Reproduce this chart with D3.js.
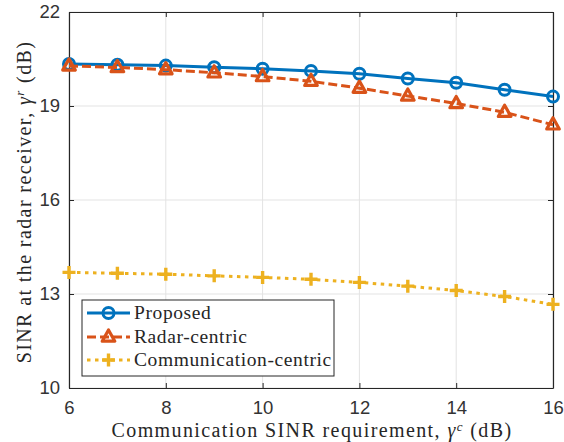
<!DOCTYPE html>
<html>
<head>
<meta charset="utf-8">
<script src="https://cdn.jsdelivr.net/npm/d3@7"></script>
<style>
  html, body { margin: 0; padding: 0; background: #fff; }
  svg { display: block; }
</style>
</head>
<body>
<svg id="chart" width="564" height="442"></svg>
<script>
// Communication SINR requirement (dB)
const gammaC = [6, 7, 8, 9, 10, 11, 12, 13, 14, 15, 16];
// Radar SINR achieved (dB)
const proposed = [20.34, 20.32, 20.29, 20.24, 20.19, 20.12, 20.03, 19.88, 19.74, 19.52, 19.30];
const radarCentric = [20.28, 20.23, 20.16, 20.06, 19.94, 19.79, 19.57, 19.32, 19.08, 18.80, 18.40];
const commCentric = [13.69, 13.66, 13.63, 13.58, 13.53, 13.47, 13.37, 13.25, 13.11, 12.92, 12.67];
const xTicks = [6, 8, 10, 12, 14, 16];
const yTicks = [10, 13, 16, 19, 22];
const seriesNames = ["Proposed", "Radar-centric", "Communication-centric"];

const colors = ["#0072BD", "#D95319", "#EDB120"];
const dashes = [null, "9,4", "3.5,4.5"];
const markers = ["circle", "triangle", "plus"];
const seriesData = [proposed, radarCentric, commCentric];

const svg = d3.select("#chart");
const L = 69, R = 553, T = 12, B = 388;

const x = d3.scaleLinear().domain([6, 16]).range([L, R]);
const y = d3.scaleLinear().domain([10, 22]).range([B, T]);

const tickFont = "'Liberation Sans', Arial, sans-serif";
const serif = "'Liberation Serif', 'Times New Roman', serif";
const textColor = "#262626";

// grid
const grid = svg.append("g");
grid.selectAll("line.gx").data(xTicks).join("line")
  .attr("x1", d => x(d)).attr("x2", d => x(d))
  .attr("y1", T).attr("y2", B)
  .attr("stroke", "#e3e3e3").attr("stroke-width", 1);
grid.selectAll("line.gy").data(yTicks).join("line")
  .attr("y1", d => y(d)).attr("y2", d => y(d))
  .attr("x1", L).attr("x2", R)
  .attr("stroke", "#e3e3e3").attr("stroke-width", 1);

// axes (ticks inward, mirrored on top/right)
const axisColor = "#262626";
const axBottom = svg.append("g").attr("transform", `translate(0,${B})`)
  .call(d3.axisBottom(x).tickValues(xTicks).tickSizeInner(-5).tickSizeOuter(0).tickPadding(13));
const axLeft = svg.append("g").attr("transform", `translate(${L},0)`)
  .call(d3.axisLeft(y).tickValues(yTicks).tickSizeInner(-5).tickSizeOuter(0).tickPadding(9));
const axTop = svg.append("g").attr("transform", `translate(0,${T})`)
  .call(d3.axisTop(x).tickValues(xTicks).tickSizeInner(-5).tickSizeOuter(0).tickFormat(""));
const axRight = svg.append("g").attr("transform", `translate(${R},0)`)
  .call(d3.axisRight(y).tickValues(yTicks).tickSizeInner(-5).tickSizeOuter(0).tickFormat(""));
[axBottom, axLeft, axTop, axRight].forEach(g => {
  g.select(".domain").attr("stroke", axisColor).attr("stroke-width", 1.2);
  g.selectAll(".tick line").attr("stroke", axisColor).attr("stroke-width", 1);
  g.selectAll(".tick text").attr("fill", "#333")
    .style("font-family", tickFont).style("font-size", "18.5px");
});

const line = d3.line().x((d, i) => x(gammaC[i])).y(d => y(d));

function drawMarker(g, type, cx, cy, color) {
  if (type === "circle") {
    g.append("circle").attr("cx", cx).attr("cy", cy).attr("r", 5.5)
      .attr("fill", "none").attr("stroke", color).attr("stroke-width", 3);
  } else if (type === "triangle") {
    const s = 7;
    g.append("path")
      .attr("d", `M${cx},${cy - s}L${cx + s * 0.9},${cy + s * 0.6}L${cx - s * 0.9},${cy + s * 0.6}Z`)
      .attr("fill", "none").attr("stroke", color).attr("stroke-width", 3.2)
      .attr("stroke-linejoin", "round");
  } else {
    const s = 6.5;
    g.append("path")
      .attr("d", `M${cx - s},${cy}H${cx + s}M${cx},${cy - s}V${cy + s}`)
      .attr("stroke", color).attr("stroke-width", 3.4);
  }
}

const plot = svg.append("g");
seriesData.forEach((vals, k) => {
  plot.append("path").datum(vals)
    .attr("d", line)
    .attr("fill", "none")
    .attr("stroke", colors[k])
    .attr("stroke-width", 3)
    .attr("stroke-dasharray", dashes[k]);
  const mg = plot.append("g");
  vals.forEach((v, i) => drawMarker(mg, markers[k], x(gammaC[i]), y(v), colors[k]));
});

// legend
const lg = svg.append("g");
lg.append("rect").attr("x", 82).attr("y", 300).attr("width", 252).attr("height", 76)
  .attr("fill", "#fff").attr("stroke", axisColor).attr("stroke-width", 1);
const rowY = [313, 337, 360];
seriesNames.forEach((name, k) => {
  lg.append("line").attr("x1", 87).attr("x2", 130)
    .attr("y1", rowY[k]).attr("y2", rowY[k])
    .attr("stroke", colors[k]).attr("stroke-width", 3)
    .attr("stroke-dasharray", dashes[k]);
  drawMarker(lg, markers[k], 108.5, rowY[k], colors[k]);
  lg.append("text").attr("x", 134).attr("y", rowY[k] + 6)
    .style("font-family", serif).style("font-size", "19.5px")
    .style("letter-spacing", "0.6px").attr("fill", textColor)
    .text(name);
});

// axis labels
const xl = svg.append("text").attr("x", 312).attr("y", 437)
  .attr("text-anchor", "middle")
  .style("font-family", serif).style("font-size", "20px")
  .style("letter-spacing", "1.4px").attr("fill", textColor);
xl.append("tspan").text("Communication SINR requirement, ");
xl.append("tspan").attr("font-style", "italic").text("γ");
xl.append("tspan").attr("font-style", "italic").attr("dy", -6).style("font-size", "13px").text("c");
xl.append("tspan").attr("dy", 6).text(" (dB)");

const yl = svg.append("text")
  .attr("transform", "translate(31,202) rotate(-90)")
  .attr("text-anchor", "middle")
  .style("font-family", serif).style("font-size", "20px")
  .style("letter-spacing", "1.4px").attr("fill", textColor);
yl.append("tspan").text("SINR at the radar receiver, ");
yl.append("tspan").attr("font-style", "italic").text("γ");
yl.append("tspan").attr("font-style", "italic").attr("dy", -7).style("font-size", "13px").text("r");
yl.append("tspan").attr("dy", 7).text(" (dB)");
</script>
</body>
</html>
